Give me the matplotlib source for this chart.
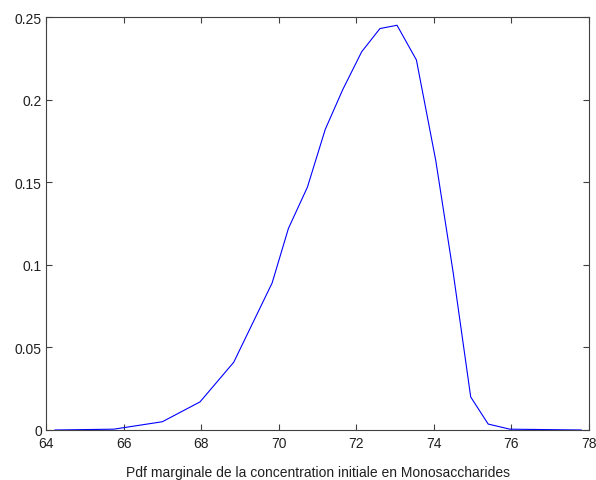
import matplotlib
matplotlib.use("Agg")
import matplotlib.pyplot as plt

conc = [64.23, 65.75, 67.0, 67.97, 68.84, 69.83, 70.25, 70.74, 71.2, 71.65,
        72.14, 72.61, 73.05, 73.55, 74.05, 74.5, 74.95, 75.4, 75.96, 77.8]
pdf = [0.0, 0.0005, 0.005, 0.017, 0.041, 0.089, 0.122, 0.147, 0.182, 0.206,
       0.229, 0.243, 0.245, 0.224, 0.163, 0.095, 0.020, 0.0036, 0.0005, 0.0]

xticks = [64, 66, 68, 70, 72, 74, 76, 78]
yticks = [0, 0.05, 0.1, 0.15, 0.2, 0.25]
yticklabels = ["0", "0.05", "0.1", "0.15", "0.2", "0.25"]
xlabel = "Pdf marginale de la concentration initiale en Monosaccharides"

plt.rcParams["font.family"] = ["Liberation Sans", "DejaVu Sans"]
plt.rcParams["font.size"] = 10

fig = plt.figure(figsize=(5.96, 4.81), dpi=100)
ax = fig.add_axes([46 / 596, 50 / 481, 543 / 596, 413 / 481])

ax.plot(conc, pdf, color="#0000ff", lw=0.8)

ax.set_xlim(64, 78)
ax.set_ylim(0, 0.25)
ax.set_xticks(xticks)
ax.set_yticks(yticks)
ax.set_yticklabels(yticklabels)
ax.tick_params(direction="in", top=True, right=True, length=4, width=0.8,
               color="#404040", labelcolor="#202020", pad=3)
ax.tick_params(axis="x", pad=4)
for s in ax.spines.values():
    s.set_color("#404040")
    s.set_linewidth(0.8)
ax.set_xlabel(xlabel, color="#202020", labelpad=11)

fig.savefig("out.png", dpi=100)
